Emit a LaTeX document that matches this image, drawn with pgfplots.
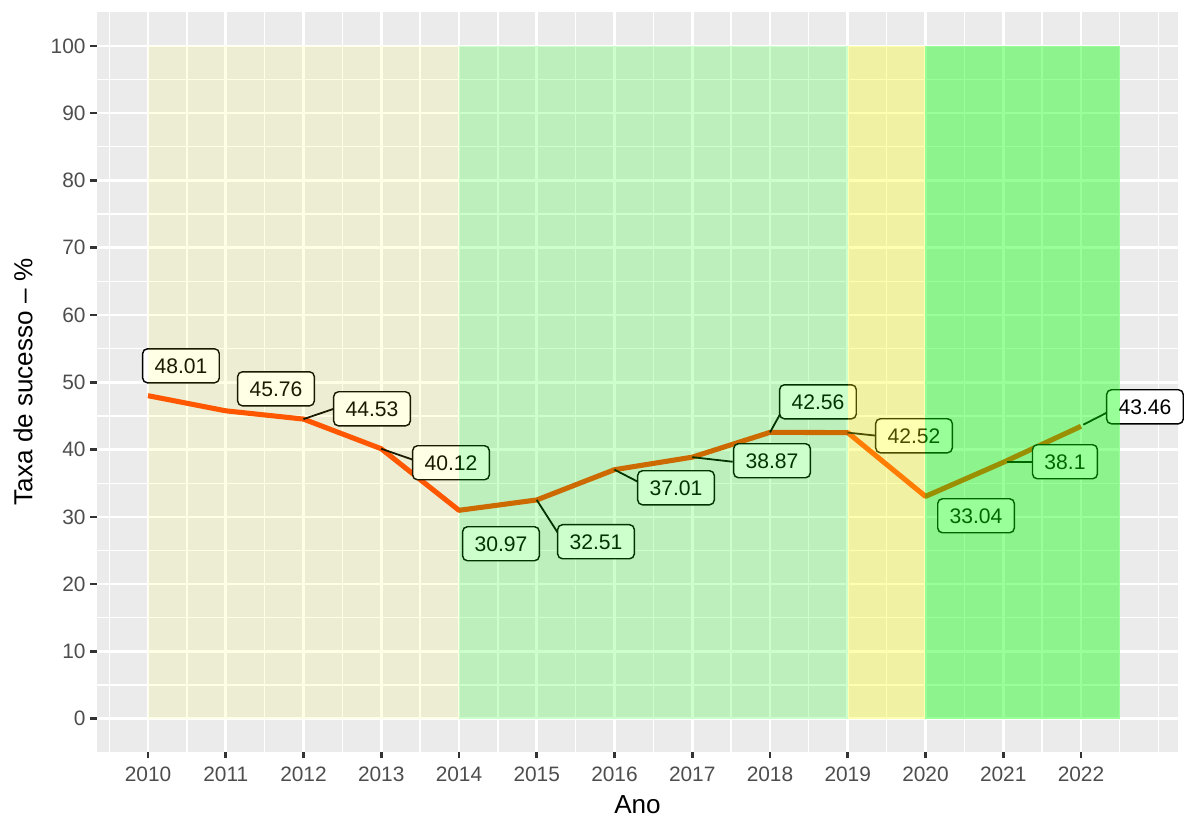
\documentclass[border=0pt]{standalone}
\usepackage{pgfplots}
\pgfplotsset{compat=1.18}
\usepackage{fontspec}
\setmainfont{Liberation Sans}
\definecolor{bg}{HTML}{EBEBEB}
\definecolor{tickcol}{HTML}{333333}
\definecolor{ticklab}{HTML}{4D4D4D}
\definecolor{lineor}{HTML}{FF4500}
\definecolor{ypure}{HTML}{FFFF00}
\definecolor{gpure}{HTML}{00FF00}

\pgfplotstableread{
x y
2010 48.01
2011 45.76
2012 44.53
2013 40.12
2014 30.97
2015 32.51
2016 37.01
2017 38.87
2018 42.56
2019 42.52
2020 33.04
2021 38.1
2022 43.46
}\serie

\pgfplotstableread{
x y lab
2010.424 52.45 48.01
2011.646 49.03 45.76
2012.881 46.06 44.53
2013.897 38.04 40.12
2014.540 26.00 30.97
2015.762 26.30 32.51
2016.791 34.32 37.01
2018.026 38.34 38.87
2018.617 47.10 42.56
2019.852 42.05 42.52
2020.650 30.16 33.04
2021.794 38.19 38.1
2022.823 46.36 43.46
}\rotulos

\begin{document}
\begin{tikzpicture}
\begin{axis}[
  set layers,
  scale only axis, width=454.2bp, height=310.9bp,
  xmin=2009.344, xmax=2023.248, ymin=-4.95, ymax=105.05,
  clip=false,
  axis background/.style={fill=bg},
  axis line style={draw=none},
  grid=both,
  major grid style={white, line width=1.07bp},
  minor grid style={white, line width=0.53bp},
  xtick={2010,2011,2012,2013,2014,2015,2016,2017,2018,2019,2020,2021,2022},
  minor xtick={2009.5,2010.5,2011.5,2012.5,2013.5,2014.5,2015.5,2016.5,2017.5,2018.5,2019.5,2020.5,2021.5,2022.5,2023},
  ytick={0,10,20,30,40,50,60,70,80,90,100},
  minor ytick={5,15,25,35,45,55,65,75,85,95},
  tick align=outside, major tick length=2.75bp, minor tick length=0pt,
  tick style={tickcol, line width=1.07bp},
  xtick pos=bottom, ytick pos=left,
  /pgf/number format/1000 sep={},
  /pgf/number format/assume math mode=true,
  tick label style={font=\fontsize{8.8}{10}\selectfont, text=ticklab, inner sep=0pt},
  xticklabel style={anchor=north, yshift=-3.4bp},
  yticklabel style={anchor=east, xshift=-1.9bp},
  xlabel={Ano}, ylabel={Taxa de sucesso – \%},
  label style={font=\fontsize{11}{13}\selectfont, inner sep=0pt},
  xlabel style={at={([yshift=-18.07bp]axis description cs:0.5,0)}, anchor=north},
  ylabel style={at={([xshift=-26.9bp]axis description cs:0,0.5)}, anchor=south},
]
\addplot[lineor, line width=2.13bp, line join=round] table[x=x,y=y] {\serie};

\addplot[black, line width=0.75bp] coordinates {(2012,44.53) (2012.39,46.06)};
\addplot[black, line width=0.75bp] coordinates {(2013,40.12) (2013.41,38.48)};
\addplot[black, line width=0.75bp] coordinates {(2015,32.51) (2015.27,27.64)};
\addplot[black, line width=0.75bp] coordinates {(2016,37.01) (2016.30,35.22)};
\addplot[black, line width=0.75bp] coordinates {(2017,38.87) (2017.52,38.19)};
\addplot[black, line width=0.75bp] coordinates {(2018,42.56) (2018.14,45.47)};
\addplot[black, line width=0.75bp] coordinates {(2019,42.52) (2019.38,42.05)};
\addplot[black, line width=0.75bp] coordinates {(2021.05,38.19) (2021.38,38.19)};
\addplot[black, line width=0.75bp] coordinates {(2022.03,43.70) (2022.33,45.47)};

\addplot[draw=none, mark=none, point meta=explicit symbolic,
  nodes near coords={\pgfplotspointmeta},
  nodes near coords style={anchor=center, draw=black, line width=0.6bp, fill=white,
    rounded corners=2bp, inner xsep=5bp, inner ysep=4bp, text height=6.3bp, text depth=0bp,
    font=\fontsize{8.9}{10}\selectfont, text=black}]
  table[x=x, y=y, meta=lab] {\rotulos};

\addplot[on layer=axis foreground, draw=none, fill=ypure, fill opacity=0.1] coordinates {(2010,0) (2010,100) (2014,100) (2014,0)};
\addplot[on layer=axis foreground, draw=none, fill=gpure, fill opacity=0.2] coordinates {(2014,0) (2014,100) (2019,100) (2019,0)};
\addplot[on layer=axis foreground, draw=none, fill=ypure, fill opacity=0.3] coordinates {(2019,0) (2019,100) (2020,100) (2020,0)};
\addplot[on layer=axis foreground, draw=none, fill=gpure, fill opacity=0.4] coordinates {(2020,0) (2020,100) (2022.5,100) (2022.5,0)};
\end{axis}
\pgfresetboundingbox
\path[use as bounding box] ([shift={(-40.76bp,-26.89bp)}]current axis.south west) rectangle ([shift={(2.52bp,5.04bp)}]current axis.north east);
\end{tikzpicture}
\end{document}
